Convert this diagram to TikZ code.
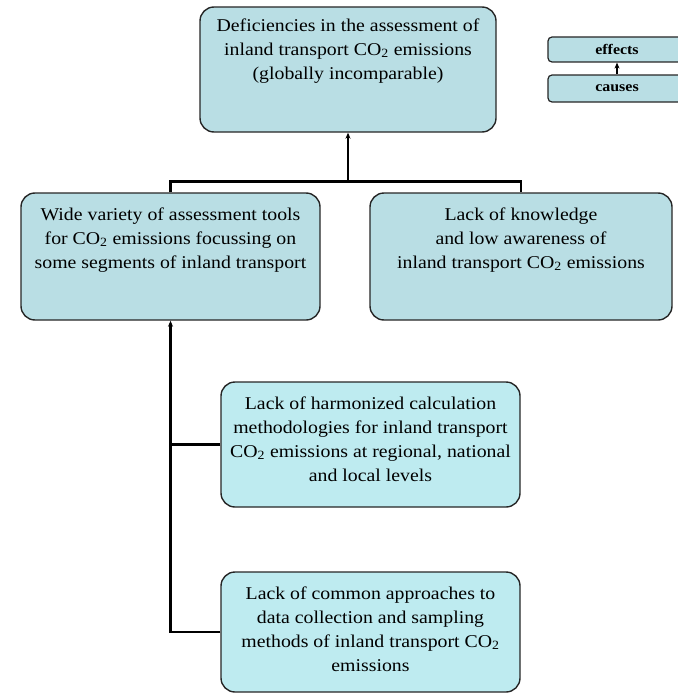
\documentclass[tikz,border=0pt]{standalone}
\usepackage{fontspec}
\setmainfont[FakeStretch=1.1]{Liberation Serif}
\usetikzlibrary{arrows.meta}

\definecolor{topblue}{RGB}{185,222,228}
\definecolor{lowblue}{RGB}{190,235,240}

\begin{document}
\begin{tikzpicture}[
  x = 1pt, y = -1pt,
  box/.style = {draw = black!85, line width = 1.4pt, rounded corners = 14pt,
                fill = topblue, inner sep = 0pt},
  lowbox/.style = {box, fill = lowblue},
  boxtext/.style = {anchor = north, yshift = -15pt, align = center, inner sep = 0pt,
                    font = \fontsize{18}{24}\selectfont},
  key/.style = {box, rounded corners = 4pt, line width = 1.2pt, minimum width = 138pt,
                font = \bfseries\fontsize{14.5}{15}\selectfont},
  link/.style = {line width = 2.5pt},
  up/.style = {link, -{Stealth[length = 6pt, width = 5pt]}},
  ]
  \useasboundingbox (0,0) rectangle (677,693);

  % boxes
  \node[box, minimum width = 296pt, minimum height = 125pt] (top) at (348,69.5) {};
  \node[box, minimum width = 299pt, minimum height = 127pt] (left) at (170.5,256.5) {};
  \node[box, minimum width = 302pt, minimum height = 127pt] (right) at (521,256.5) {};
  \node[lowbox, minimum width = 299pt, minimum height = 125pt] (middle) at (370.5,444.5) {};
  \node[lowbox, minimum width = 299pt, minimum height = 120pt] (bottom) at (370.5,632) {};

  % texts
  \node[boxtext, yshift = 3pt] (topText) at (top.north)
    {Deficiencies in the assessment of\\ inland transport CO\textsubscript{2} emissions\\ (globally incomparable)};
  \node[boxtext] (leftText) at (left.north)
    {Wide variety of assessment tools\\ for CO\textsubscript{2} emissions focussing on\\ some segments of inland transport};
  \node[boxtext] (rightText) at (right.north)
    {Lack of knowledge\\ and low awareness of\\ inland transport CO\textsubscript{2} emissions};
  \node[boxtext] (middleText) at (middle.north)
    {Lack of harmonized calculation\\ methodologies for inland transport\\ CO\textsubscript{2} emissions at regional, national\\ and local levels};
  \node[boxtext] (bottomText) at (bottom.north)
    {Lack of common approaches to\\ data collection and sampling\\ methods of inland transport CO\textsubscript{2}\\ emissions};

  % legend
  \node[key, minimum height = 25pt] (effects) at (617,49.5) {effects};
  \node[key, minimum height = 27pt] (causes) at (617,88.5) {causes};
  \draw[up, line width = 1.5pt] (causes.north) -- (effects.south);

  % connectors
  \draw[link] (left.north) -- ++(0,-11) -| (right.north);
  \draw[up] (left.north |- 0,182) -| (top.south);
  \draw[up] (bottom.west) -| (left.south);
  \draw[link] (middle.west) -- (middle.west -| left.south);
\end{tikzpicture}
\end{document}
